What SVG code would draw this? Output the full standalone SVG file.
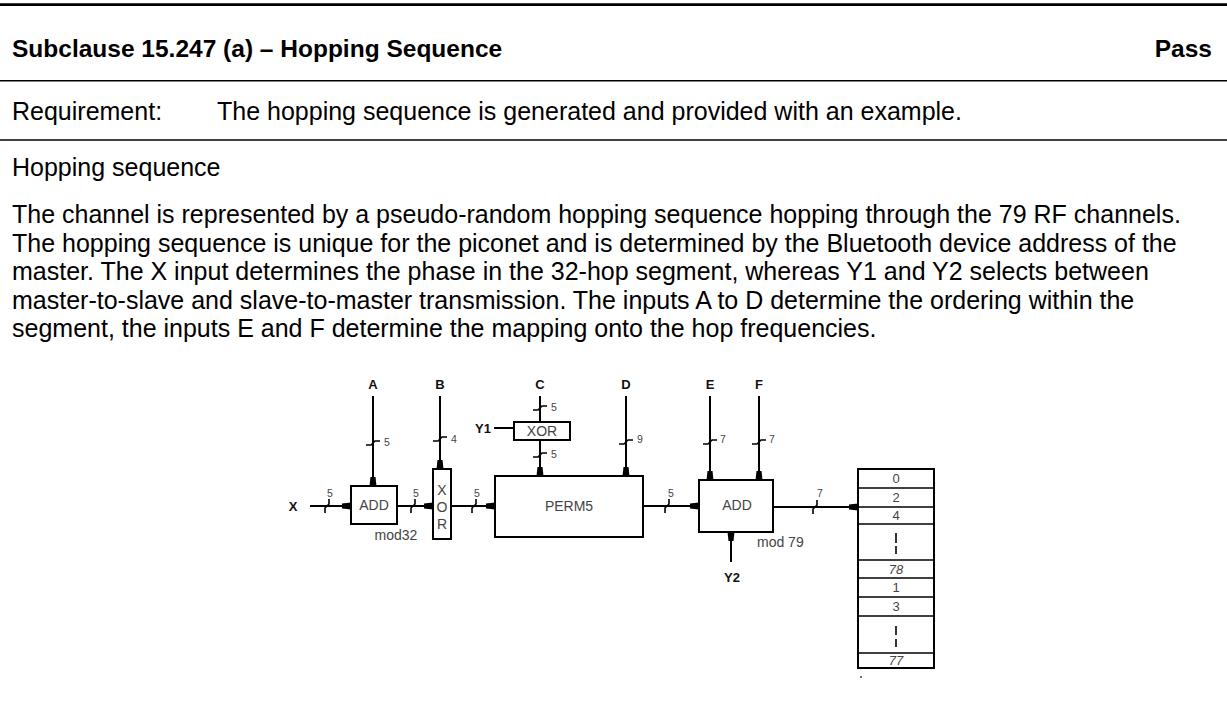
<svg xmlns="http://www.w3.org/2000/svg" width="1227" height="702" viewBox="0 0 1227 702">
<style>
.hd{font-family:"Liberation Sans",Arial,sans-serif;font-size:24.5px;font-weight:bold;fill:#000}
.bd{font-family:"Liberation Sans",Arial,sans-serif;font-size:25px;fill:#000}
.lb{font-family:"Liberation Sans",Arial,sans-serif;font-size:13px;font-weight:bold;fill:#111;text-anchor:middle}
.bx{font-family:"Liberation Sans",Arial,sans-serif;font-size:14px;fill:#444;text-anchor:middle}
.nm{font-family:"Liberation Sans",Arial,sans-serif;font-size:10.5px;fill:#444}
.tb{font-family:"Liberation Sans",Arial,sans-serif;font-size:13px;fill:#444;text-anchor:middle}
.box{fill:#fff;stroke:#000;stroke-width:2}
.bus{fill:none;stroke:#000;stroke-width:2}
.tk{fill:none;stroke:#000;stroke-width:1.6}
.rl{stroke:#000;stroke-width:1.6}
</style>
<defs>
<marker id="ah" viewBox="0 -4 9 8" refX="9" refY="0" markerWidth="9" markerHeight="8" markerUnits="userSpaceOnUse" orient="auto">
<path d="M0,-2.5 L9,-3.5 L9,3.5 L0,2.5 z" fill="#000"/>
</marker>
</defs>

<g id="header">
<line x1="0" y1="4.7" x2="1227" y2="4.7" stroke="#000" stroke-width="2.7"/>
<text class="hd" x="12" y="57">Subclause 15.247 (a) – Hopping Sequence</text>
<text class="hd" x="1212" y="57" text-anchor="end">Pass</text>
<line x1="0" y1="80.7" x2="1227" y2="80.7" stroke="#000" stroke-width="1.6"/>
<text class="bd" x="12" y="120">Requirement:</text>
<text class="bd" x="217" y="120">The hopping sequence is generated and provided with an example.</text>
<line x1="0" y1="140" x2="1227" y2="140" stroke="#000" stroke-width="1.6"/>
</g>

<g id="body-text">
<text class="bd" x="12" y="176">Hopping sequence</text>
<text class="bd" x="12" y="223">The channel is represented by a pseudo-random hopping sequence hopping through the 79 RF channels.</text>
<text class="bd" x="12" y="251.5">The hopping sequence is unique for the piconet and is determined by the Bluetooth device address of the</text>
<text class="bd" x="12" y="280">master. The X input determines the phase in the 32-hop segment, whereas Y1 and Y2 selects between</text>
<text class="bd" x="12" y="308.5">master-to-slave and slave-to-master transmission. The inputs A to D determine the ordering within the</text>
<text class="bd" x="12" y="337">segment, the inputs E and F determine the mapping onto the hop frequencies.</text>
</g>

<g id="connectors">
<line class="bus" x1="310" y1="506" x2="351" y2="506" marker-end="url(#ah)"/>
<line class="bus" x1="373" y1="396" x2="373" y2="486" marker-end="url(#ah)"/>
<line class="bus" x1="440" y1="396" x2="440" y2="469" marker-end="url(#ah)"/>
<line class="bus" x1="397" y1="506" x2="433" y2="506" marker-end="url(#ah)"/>
<line class="bus" x1="451" y1="506" x2="495" y2="506" marker-end="url(#ah)"/>
<line class="bus" x1="540" y1="396" x2="540" y2="422"/>
<line class="bus" x1="494" y1="428" x2="514" y2="428"/>
<line class="bus" x1="540" y1="440" x2="540" y2="476" marker-end="url(#ah)"/>
<line class="bus" x1="626" y1="396" x2="626" y2="476" marker-end="url(#ah)"/>
<line class="bus" x1="643" y1="506" x2="699" y2="506" marker-end="url(#ah)"/>
<line class="bus" x1="710" y1="396" x2="710" y2="480" marker-end="url(#ah)"/>
<line class="bus" x1="759" y1="396" x2="759" y2="480" marker-end="url(#ah)"/>
<line class="bus" x1="731" y1="562" x2="731" y2="532" marker-end="url(#ah)"/>
<line class="bus" x1="773" y1="507" x2="858" y2="507" marker-end="url(#ah)"/>
<polyline class="tk" points="325,513 325,508 329,504 329,499"/>
<polyline class="tk" points="411,513 411,508 415,504 415,499"/>
<polyline class="tk" points="472,513 472,508 476,504 476,499"/>
<polyline class="tk" points="665,513 665,508 669,504 669,499"/>
<polyline class="tk" points="813,514 813,509 817,505 817,500"/>
<polyline class="tk" points="366,445 371,445 375,441 380,441"/>
<polyline class="tk" points="433,441 438,441 442,437 447,437"/>
<polyline class="tk" points="533,410 538,410 542,406 547,406"/>
<polyline class="tk" points="533,457 538,457 542,453 547,453"/>
<polyline class="tk" points="619,444 624,444 628,440 633,440"/>
<polyline class="tk" points="703,444 708,444 712,440 717,440"/>
<polyline class="tk" points="752,444 757,444 761,440 766,440"/>
<text class="nm" x="327" y="497">5</text>
<text class="nm" x="413" y="497">5</text>
<text class="nm" x="474" y="497">5</text>
<text class="nm" x="668" y="497">5</text>
<text class="nm" x="817" y="497">7</text>
<text class="nm" x="384" y="446">5</text>
<text class="nm" x="451" y="443">4</text>
<text class="nm" x="551" y="411">5</text>
<text class="nm" x="551" y="458">5</text>
<text class="nm" x="637" y="443">9</text>
<text class="nm" x="720" y="443">7</text>
<text class="nm" x="769" y="443">7</text>
</g>

<g id="input-labels">
<text class="lb" x="293" y="511">X</text>
<text class="lb" x="373" y="389">A</text>
<text class="lb" x="440" y="389">B</text>
<text class="lb" x="540" y="389">C</text>
<text class="lb" x="626" y="389">D</text>
<text class="lb" x="710" y="389">E</text>
<text class="lb" x="759" y="389">F</text>
<text class="lb" x="483" y="433">Y1</text>
<text class="lb" x="732" y="582">Y2</text>
</g>

<g id="add1">
<rect class="box" x="351" y="486" width="46" height="38"/>
<text class="bx" x="374" y="510">ADD</text>
<text class="bx" x="396" y="540">mod32</text>
</g>

<g id="xor-b">
<rect class="box" x="433" y="469" width="18" height="70"/>
<text class="bx" x="442" y="495">X</text>
<text class="bx" x="442" y="512">O</text>
<text class="bx" x="442" y="529">R</text>
</g>

<g id="xor-c">
<rect class="box" x="514" y="422" width="56" height="18"/>
<text class="bx" x="542" y="436">XOR</text>
</g>

<g id="perm5">
<rect class="box" x="495" y="476" width="148" height="61"/>
<text class="bx" x="569" y="511">PERM5</text>
</g>

<g id="add2">
<rect class="box" x="699" y="480" width="74" height="52"/>
<text class="bx" x="737" y="510">ADD</text>
<text class="bx" x="757" y="547" style="text-anchor:start">mod 79</text>
</g>

<g id="table">
<rect class="box" x="858" y="469" width="76" height="199"/>
<line class="rl" x1="858" y1="488" x2="934" y2="488"/>
<line class="rl" x1="858" y1="507" x2="934" y2="507"/>
<line class="rl" x1="858" y1="524" x2="934" y2="524"/>
<line class="rl" x1="858" y1="560" x2="934" y2="560"/>
<line class="rl" x1="858" y1="578" x2="934" y2="578"/>
<line class="rl" x1="858" y1="597" x2="934" y2="597"/>
<line class="rl" x1="858" y1="616" x2="934" y2="616"/>
<line class="rl" x1="858" y1="653" x2="934" y2="653"/>
<text class="tb" x="896" y="483">0</text>
<text class="tb" x="896" y="502">2</text>
<text class="tb" x="896" y="520">4</text>
<line class="rl" x1="896" y1="533" x2="896" y2="543"/>
<line class="rl" x1="896" y1="546" x2="896" y2="554"/>
<text class="tb" x="896" y="574" font-style="italic">78</text>
<text class="tb" x="896" y="592">1</text>
<text class="tb" x="896" y="611">3</text>
<line class="rl" x1="896" y1="626" x2="896" y2="635"/>
<line class="rl" x1="896" y1="639" x2="896" y2="647"/>
<text class="tb" x="896" y="665" font-style="italic">77</text>
<circle cx="861" cy="677" r="1" fill="#444"/>
</g>
</svg>
